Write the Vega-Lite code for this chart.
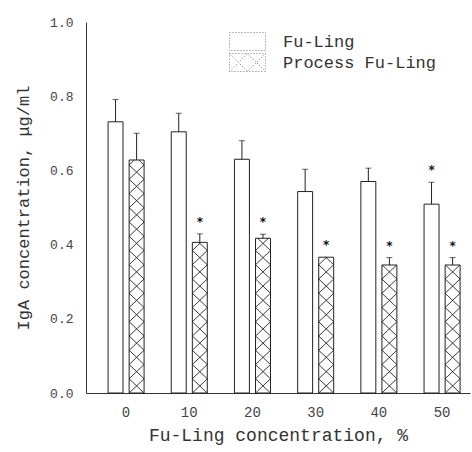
{
  "$schema": "https://vega.github.io/schema/vega-lite/v6.json",
  "autosize": {"type": "none"},
  "padding": {"left": 86, "top": 22, "right": 2, "bottom": 59},
  "width": 384,
  "height": 371,
  "background": "white",
  "config": {
    "view": {"stroke": null},
    "font": "Liberation Mono"
  },
  "data": {
    "values": [
      {"conc": "0", "series": "Fu-Ling", "value": 0.731, "upper": 0.791, "sig": false},
      {"conc": "0", "series": "Process Fu-Ling", "value": 0.628, "upper": 0.70, "sig": false},
      {"conc": "10", "series": "Fu-Ling", "value": 0.704, "upper": 0.754, "sig": false},
      {"conc": "10", "series": "Process Fu-Ling", "value": 0.406, "upper": 0.429, "sig": true},
      {"conc": "20", "series": "Fu-Ling", "value": 0.63, "upper": 0.68, "sig": false},
      {"conc": "20", "series": "Process Fu-Ling", "value": 0.417, "upper": 0.428, "sig": true},
      {"conc": "30", "series": "Fu-Ling", "value": 0.543, "upper": 0.603, "sig": false},
      {"conc": "30", "series": "Process Fu-Ling", "value": 0.366, "upper": 0.366, "sig": true},
      {"conc": "40", "series": "Fu-Ling", "value": 0.57, "upper": 0.606, "sig": false},
      {"conc": "40", "series": "Process Fu-Ling", "value": 0.345, "upper": 0.365, "sig": true},
      {"conc": "50", "series": "Fu-Ling", "value": 0.509, "upper": 0.568, "sig": true},
      {"conc": "50", "series": "Process Fu-Ling", "value": 0.345, "upper": 0.365, "sig": true}
    ]
  },
  "resolve": {"scale": {"shape": "independent"}, "legend": {"shape": "independent"}},
  "encoding": {
    "x": {
      "field": "conc",
      "type": "nominal",
      "sort": ["0", "10", "20", "30", "40", "50"],
      "scale": {"paddingInner": 0.43, "paddingOuter": 0.253, "align": 0.69},
      "title": "Fu-Ling concentration, %",
      "axis": {
        "labelAngle": 0,
        "ticks": false,
        "domainColor": "#333",
        "labelFont": "Liberation Mono",
        "labelFontSize": 14,
        "labelColor": "#444",
        "labelPadding": 12,
        "titleFont": "Liberation Mono",
        "titleFontSize": 18,
        "titleFontWeight": "normal",
        "titleColor": "#333",
        "titlePadding": 7
      }
    },
    "xOffset": {
      "field": "series",
      "type": "nominal",
      "scale": {"domain": ["Fu-Ling", "Process Fu-Ling"], "paddingInner": 0.29, "paddingOuter": 0}
    },
    "y": {
      "field": "value",
      "type": "quantitative",
      "scale": {"domain": [0, 1], "nice": false},
      "title": "IgA concentration, μg/ml",
      "axis": {
        "values": [0, 0.2, 0.4, 0.6, 0.8, 1.0],
        "format": ".1f",
        "grid": false,
        "ticks": false,
        "domainColor": "#333",
        "labelFont": "Liberation Mono",
        "labelFontSize": 13,
        "labelColor": "#444",
        "labelPadding": 13,
        "titleFont": "Liberation Mono",
        "titleFontSize": 17,
        "titleFontWeight": "normal",
        "titleColor": "#333",
        "titlePadding": 17
      }
    }
  },
  "layer": [
    {
      "mark": {"type": "bar", "fill": "white", "strokeWidth": 0}
    },
    {
      "transform": [{"filter": "datum.series === 'Process Fu-Ling'"}],
      "mark": {
        "type": "point",
        "filled": false,
        "stroke": "#222",
        "strokeWidth": 0.9,
        "opacity": 1,
        "size": 225
      },
      "encoding": {
        "y": {"datum": 0},
        "shape": {
          "field": "conc",
          "type": "nominal",
          "legend": null,
          "scale": {
            "domain": ["0", "10", "20", "30", "40", "50"],
            "range": [
              "M-1,0L1,-1.9L-1,-3.8L1,-5.7L-1,-7.6L1,-9.5L-1,-11.4L1,-13.3L-1,-15.2L1,-17.1L-1,-19L1,-20.9L-1,-22.8L1,-24.7L-1,-26.6L1,-28.5L-1,-30.4L-0.29,-31.07M1,0L-1,-1.9L1,-3.8L-1,-5.7L1,-7.6L-1,-9.5L1,-11.4L-1,-13.3L1,-15.2L-1,-17.1L1,-19L-1,-20.9L1,-22.8L-1,-24.7L1,-26.6L-1,-28.5L1,-30.4L0.29,-31.07",
              "M-1,0L1,-1.9L-1,-3.8L1,-5.7L-1,-7.6L1,-9.5L-1,-11.4L1,-13.3L-1,-15.2L1,-17.1L-1,-19L0.14,-20.08M1,0L-1,-1.9L1,-3.8L-1,-5.7L1,-7.6L-1,-9.5L1,-11.4L-1,-13.3L1,-15.2L-1,-17.1L1,-19L-0.14,-20.08",
              "M-1,0L1,-1.9L-1,-3.8L1,-5.7L-1,-7.6L1,-9.5L-1,-11.4L1,-13.3L-1,-15.2L1,-17.1L-1,-19L0.72,-20.63M1,0L-1,-1.9L1,-3.8L-1,-5.7L1,-7.6L-1,-9.5L1,-11.4L-1,-13.3L1,-15.2L-1,-17.1L1,-19L-0.72,-20.63",
              "M-1,0L1,-1.9L-1,-3.8L1,-5.7L-1,-7.6L1,-9.5L-1,-11.4L1,-13.3L-1,-15.2L1,-17.1L-0.06,-18.11M1,0L-1,-1.9L1,-3.8L-1,-5.7L1,-7.6L-1,-9.5L1,-11.4L-1,-13.3L1,-15.2L-1,-17.1L0.06,-18.11",
              "M-1,0L1,-1.9L-1,-3.8L1,-5.7L-1,-7.6L1,-9.5L-1,-11.4L1,-13.3L-1,-15.2L0.97,-17.07M1,0L-1,-1.9L1,-3.8L-1,-5.7L1,-7.6L-1,-9.5L1,-11.4L-1,-13.3L1,-15.2L-0.97,-17.07",
              "M-1,0L1,-1.9L-1,-3.8L1,-5.7L-1,-7.6L1,-9.5L-1,-11.4L1,-13.3L-1,-15.2L0.97,-17.07M1,0L-1,-1.9L1,-3.8L-1,-5.7L1,-7.6L-1,-9.5L1,-11.4L-1,-13.3L1,-15.2L-0.97,-17.07"
            ]
          }
        }
      }
    },
    {
      "mark": {"type": "bar", "fill": "transparent", "stroke": "#222", "strokeWidth": 1}
    },
    {
      "transform": [{"filter": "datum.upper > datum.value"}],
      "mark": {"type": "rule", "color": "#222", "strokeWidth": 1},
      "encoding": {"y2": {"field": "upper"}}
    },
    {
      "transform": [{"filter": "datum.upper > datum.value"}],
      "mark": {"type": "tick", "color": "#222", "thickness": 1, "size": 6},
      "encoding": {"y": {"field": "upper", "type": "quantitative"}}
    },
    {
      "transform": [{"filter": "datum.sig"}],
      "mark": {"type": "text", "text": "*", "font": "DejaVu Sans", "fontSize": 12, "fontWeight": "bold", "baseline": "middle", "dy": -12, "color": "#111"},
      "encoding": {"y": {"field": "upper", "type": "quantitative"}}
    },
    {
      "transform": [{"filter": "false"}],
      "mark": {"type": "point", "filled": false, "color": "#666", "size": 324},
      "encoding": {
        "shape": {
          "field": "series",
          "type": "nominal",
          "scale": {
            "domain": ["Fu-Ling", "Process Fu-Ling"],
            "range": ["M-2,-1L2,-1L2,1L-2,1Z", "M-2,-1L2,-1L2,1L-2,1ZM-2,-1L0,1L2,-1M-2,1L0,-1L2,1"]
          },
          "legend": {
            "orient": "none",
            "legendX": 152,
            "legendY": 10,
            "title": null,
            "padding": 0,
            "symbolSize": 324,
            "symbolOpacity": 1,
            "symbolStrokeColor": "#777",
            "symbolStrokeWidth": 1,
            "symbolDash": [1, 2],
            "symbolFillColor": "transparent",
            "labelFont": "Liberation Mono",
            "labelFontSize": 17,
            "labelColor": "#333",
            "labelOffset": 26,
            "rowPadding": -4
          }
        }
      }
    }
  ]
}
